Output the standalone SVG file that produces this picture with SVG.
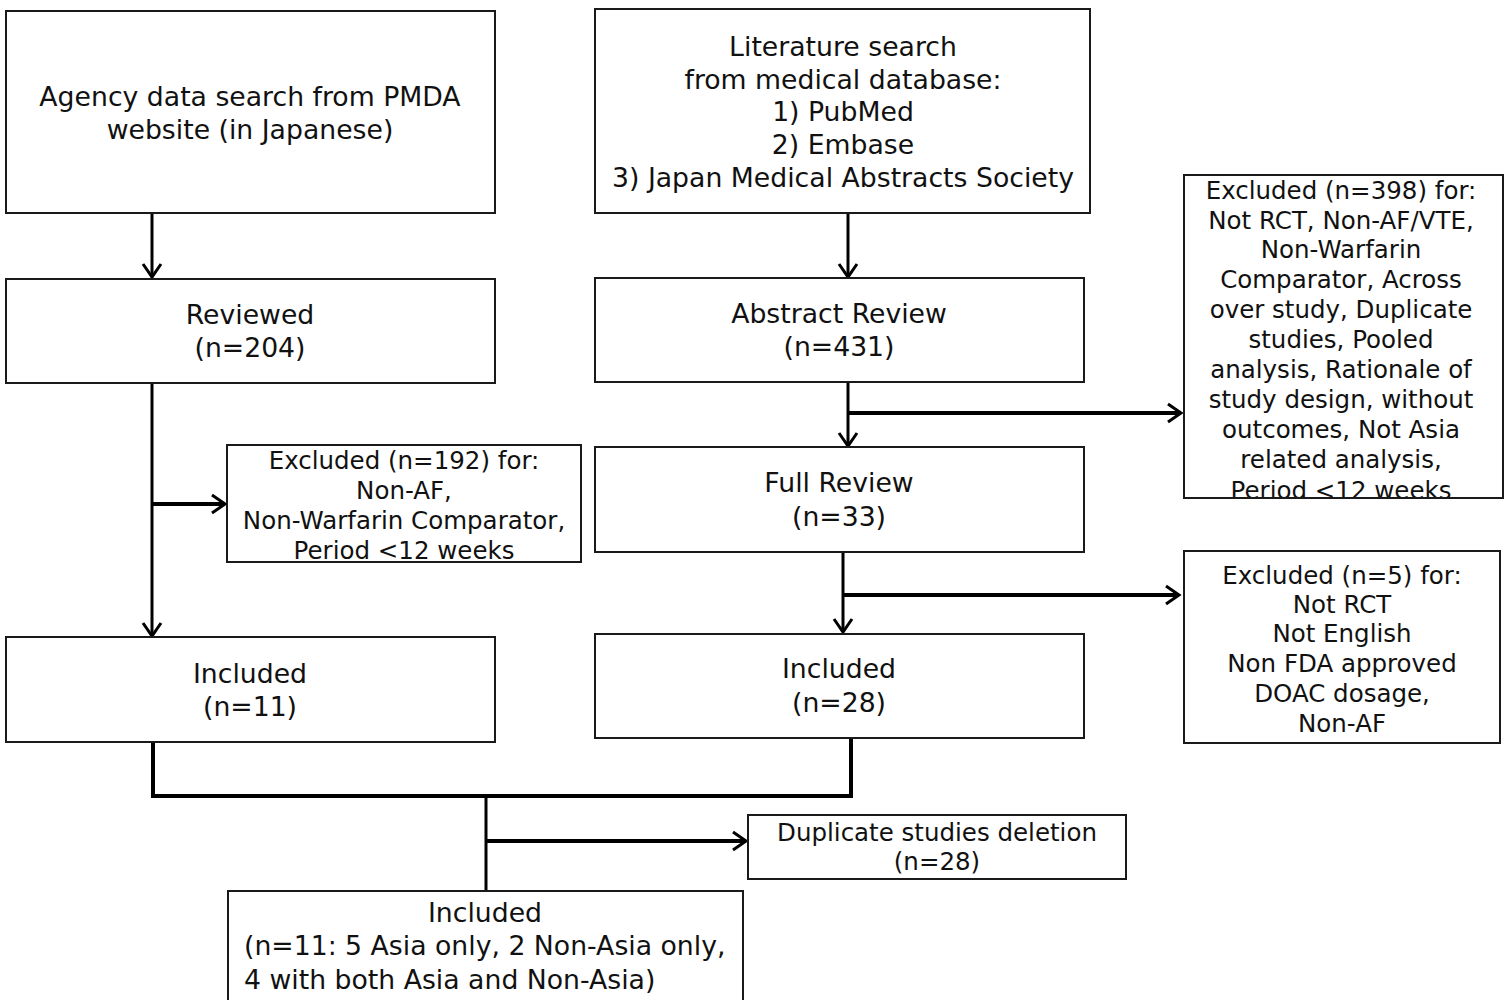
<svg xmlns="http://www.w3.org/2000/svg" width="1509" height="1000" viewBox="0 0 1509 1000">
<style>
.box{fill:#fff;stroke:#1a1a1a;stroke-width:2}
.t{font-family:"DejaVu Sans",Verdana,sans-serif;font-size:26.7px;fill:#111;text-anchor:middle}
.s{font-family:"DejaVu Sans",Verdana,sans-serif;font-size:24.5px;fill:#111;text-anchor:middle}
.c{fill:none;stroke:#000;stroke-width:3}
.h{fill:none;stroke:#000;stroke-width:4}
</style>
<defs>
<marker id="ah" markerUnits="userSpaceOnUse" markerWidth="18" markerHeight="22" viewBox="0 0 18 22" refX="15" refY="11" orient="auto">
<path d="M2,2 L15,11 L2,20" fill="none" stroke="#000" stroke-width="3"/>
</marker>
<clipPath id="clip398"><rect x="1180" y="170" width="330" height="328"/></clipPath>
</defs>
<rect width="1509" height="1000" fill="#fff"/>
<g id="connectors">
<path class="c" d="M152,213 V277" marker-end="url(#ah)"/>
<path class="c" d="M848,213 V277" marker-end="url(#ah)"/>
<path class="c" d="M152,383 V636" marker-end="url(#ah)"/>
<path class="h" d="M152,504 H225" marker-end="url(#ah)"/>
<path class="c" d="M848,382 V446" marker-end="url(#ah)"/>
<path class="h" d="M848,413 H1181" marker-end="url(#ah)"/>
<path class="c" d="M843,552 V632" marker-end="url(#ah)"/>
<path class="h" d="M843,595 H1179" marker-end="url(#ah)"/>
<path class="h" d="M153,742 V796 H851 V738"/>
<path class="c" d="M486,796 V891"/>
<path class="h" d="M486,841 H746" marker-end="url(#ah)"/>
</g>
<g id="agency">
<rect class="box" x="6" y="11" width="489" height="202"/>
<text class="t" x="250" y="106">Agency data search from PMDA</text>
<text class="t" x="250" y="139">website (in Japanese)</text>
</g>
<g id="literature">
<rect class="box" x="595" y="9" width="495" height="204"/>
<text class="t" x="843" y="56">Literature search</text>
<text class="t" x="843" y="89">from medical database:</text>
<text class="t" x="843" y="121">1) PubMed</text>
<text class="t" x="843" y="154">2) Embase</text>
<text class="t" x="843" y="187">3) Japan Medical Abstracts Society</text>
</g>
<g id="reviewed">
<rect class="box" x="6" y="279" width="489" height="104"/>
<text class="t" x="250" y="324">Reviewed</text>
<text class="t" x="250" y="357">(n=204)</text>
</g>
<g id="abstract">
<rect class="box" x="595" y="278" width="489" height="104"/>
<text class="t" x="839" y="323">Abstract Review</text>
<text class="t" x="839" y="356">(n=431)</text>
</g>
<g id="excluded192">
<rect class="box" x="227" y="445" width="354" height="117"/>
<text class="s" x="404" y="469">Excluded (n=192) for:</text>
<text class="s" x="404" y="499">Non-AF,</text>
<text class="s" x="404" y="529">Non-Warfarin Comparator,</text>
<text class="s" x="404" y="559">Period &lt;12 weeks</text>
</g>
<g id="excluded398">
<rect class="box" x="1184" y="175" width="319" height="323"/>
<g clip-path="url(#clip398)">
<text class="s" x="1341" y="199">Excluded (n=398) for:</text>
<text class="s" x="1341" y="229">Not RCT, Non-AF/VTE,</text>
<text class="s" x="1341" y="258">Non-Warfarin</text>
<text class="s" x="1341" y="288">Comparator, Across</text>
<text class="s" x="1341" y="318">over study, Duplicate</text>
<text class="s" x="1341" y="348">studies, Pooled</text>
<text class="s" x="1341" y="378">analysis, Rationale of</text>
<text class="s" x="1341" y="408">study design, without</text>
<text class="s" x="1341" y="438">outcomes, Not Asia</text>
<text class="s" x="1341" y="468">related analysis,</text>
<text class="s" x="1341" y="499">Period &lt;12 weeks</text>
</g>
<line x1="1184" y1="498" x2="1503" y2="498" stroke="#1a1a1a" stroke-width="2"/>
</g>
<g id="fullreview">
<rect class="box" x="595" y="447" width="489" height="105"/>
<text class="t" x="839" y="492">Full Review</text>
<text class="t" x="839" y="526">(n=33)</text>
</g>
<g id="excluded5">
<rect class="box" x="1184" y="551" width="316" height="192"/>
<text class="s" x="1342" y="584">Excluded (n=5) for:</text>
<text class="s" x="1342" y="613">Not RCT</text>
<text class="s" x="1342" y="642">Not English</text>
<text class="s" x="1342" y="672">Non FDA approved</text>
<text class="s" x="1342" y="702">DOAC dosage,</text>
<text class="s" x="1342" y="732">Non-AF</text>
</g>
<g id="included11">
<rect class="box" x="6" y="637" width="489" height="105"/>
<text class="t" x="250" y="683">Included</text>
<text class="t" x="250" y="716">(n=11)</text>
</g>
<g id="included28">
<rect class="box" x="595" y="634" width="489" height="104"/>
<text class="t" x="839" y="678">Included</text>
<text class="t" x="839" y="712">(n=28)</text>
</g>
<g id="duplicate">
<rect class="box" x="748" y="815" width="378" height="64"/>
<text class="s" x="937" y="841">Duplicate studies deletion</text>
<text class="s" x="937" y="870">(n=28)</text>
</g>
<g id="final">
<rect class="box" x="228" y="891" width="515" height="115"/>
<text class="t" x="485" y="922">Included</text>
<text class="t" x="244" y="955" style="text-anchor:start">(n=11: 5 Asia only, 2 Non-Asia only,</text>
<text class="t" x="244" y="989" style="text-anchor:start">4 with both Asia and Non-Asia)</text>
</g>
</svg>
